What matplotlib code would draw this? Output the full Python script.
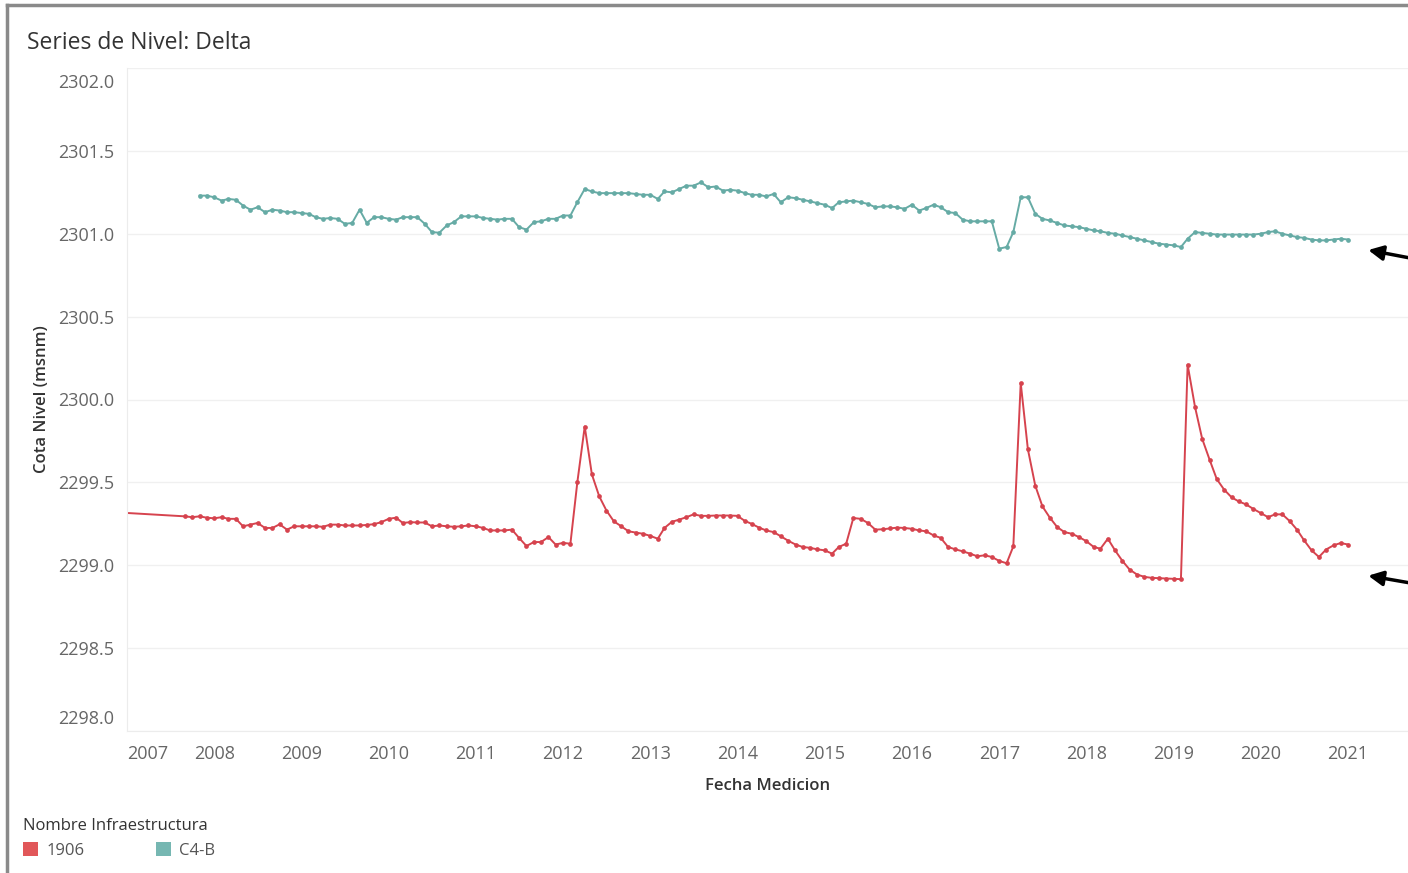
import numpy as np
import pandas as pd
import matplotlib
matplotlib.use("Agg")
import matplotlib.pyplot as plt
import matplotlib.dates as mdates
import matplotlib.transforms as mtransforms
from matplotlib.patches import Patch
from matplotlib.lines import Line2D

plt.rcParams['font.family'] = ['Open Sans', 'DejaVu Sans']

# ---- datos (mensuales) ----
c4b_start = '2007-11-01'
c4b_values = [
    2301.23, 2301.23, 2301.22, 2301.20, 2301.21, 2301.205, 2301.17, 2301.145, 2301.16, 2301.13,
    2301.145, 2301.14, 2301.13, 2301.13, 2301.125, 2301.12, 2301.10, 2301.09, 2301.095, 2301.09,
    2301.06, 2301.065, 2301.145, 2301.066, 2301.10, 2301.10, 2301.09, 2301.085, 2301.10, 2301.10,
    2301.10, 2301.06, 2301.01, 2301.006, 2301.05, 2301.07, 2301.105, 2301.105, 2301.105, 2301.095,
    2301.09, 2301.085, 2301.09, 2301.09, 2301.04, 2301.025, 2301.07, 2301.075, 2301.09, 2301.09,
    2301.11, 2301.11, 2301.19, 2301.27, 2301.255, 2301.245, 2301.245, 2301.245, 2301.245, 2301.245,
    2301.24, 2301.235, 2301.235, 2301.21, 2301.255, 2301.25, 2301.27, 2301.29, 2301.29, 2301.31,
    2301.28, 2301.285, 2301.26, 2301.265, 2301.26, 2301.245, 2301.235, 2301.235, 2301.225, 2301.24,
    2301.19, 2301.22, 2301.215, 2301.205, 2301.195, 2301.185, 2301.175, 2301.155, 2301.19, 2301.195,
    2301.20, 2301.19, 2301.18, 2301.16, 2301.165, 2301.165, 2301.16, 2301.15, 2301.175, 2301.14,
    2301.155, 2301.175, 2301.16, 2301.13, 2301.125, 2301.085, 2301.075, 2301.075, 2301.075, 2301.075,
    2300.91, 2300.92, 2301.01, 2301.22, 2301.22, 2301.12, 2301.09, 2301.08, 2301.065, 2301.05,
    2301.045, 2301.04, 2301.03, 2301.02, 2301.015, 2301.005, 2301.00, 2300.99, 2300.98, 2300.97,
    2300.96, 2300.95, 2300.94, 2300.935, 2300.93, 2300.92, 2300.97, 2301.01, 2301.005, 2301.00,
    2300.995, 2300.995, 2300.995, 2300.995, 2300.995, 2300.995, 2301.00, 2301.01, 2301.015, 2301.00,
    2300.99, 2300.98, 2300.975, 2300.965, 2300.96, 2300.96, 2300.965, 2300.97, 2300.965,
]

r1906_early_date = '2006-12-01'
r1906_early_value = 2299.318
r1906_start = '2007-09-01'
r1906_values = [
    2299.295, 2299.29, 2299.295, 2299.287, 2299.283, 2299.29, 2299.28, 2299.28, 2299.235, 2299.245,
    2299.255, 2299.225, 2299.225, 2299.247, 2299.215, 2299.235, 2299.235, 2299.235, 2299.235, 2299.232,
    2299.245, 2299.245, 2299.24, 2299.24, 2299.24, 2299.243, 2299.248, 2299.26, 2299.28, 2299.287,
    2299.255, 2299.26, 2299.258, 2299.258, 2299.235, 2299.24, 2299.235, 2299.232, 2299.235, 2299.24,
    2299.235, 2299.225, 2299.21, 2299.21, 2299.21, 2299.215, 2299.165, 2299.116, 2299.14, 2299.14,
    2299.17, 2299.125, 2299.135, 2299.13, 2299.50, 2299.837, 2299.548, 2299.415, 2299.33, 2299.265,
    2299.235, 2299.205, 2299.197, 2299.19, 2299.177, 2299.16, 2299.225, 2299.262, 2299.275, 2299.29,
    2299.307, 2299.298, 2299.298, 2299.30, 2299.30, 2299.30, 2299.298, 2299.267, 2299.25, 2299.227,
    2299.21, 2299.20, 2299.175, 2299.148, 2299.125, 2299.11, 2299.105, 2299.096, 2299.09, 2299.07,
    2299.11, 2299.13, 2299.285, 2299.28, 2299.255, 2299.215, 2299.217, 2299.222, 2299.227, 2299.225,
    2299.22, 2299.21, 2299.205, 2299.18, 2299.165, 2299.11, 2299.096, 2299.084, 2299.07, 2299.054,
    2299.06, 2299.05, 2299.026, 2299.012, 2299.114, 2300.10, 2299.70, 2299.48, 2299.355, 2299.287,
    2299.23, 2299.20, 2299.19, 2299.17, 2299.145, 2299.11, 2299.10, 2299.16, 2299.09, 2299.026,
    2298.974, 2298.944, 2298.93, 2298.924, 2298.922, 2298.92, 2298.918, 2298.916, 2300.21, 2299.955,
    2299.763, 2299.637, 2299.52, 2299.456, 2299.41, 2299.385, 2299.367, 2299.34, 2299.315, 2299.29,
    2299.307, 2299.307, 2299.267, 2299.215, 2299.15, 2299.09, 2299.05, 2299.095, 2299.12, 2299.134,
    2299.125,
]

series_names = ['1906', 'C4-B']
line_colors = ['#d6434e', '#66aba5']
legend_colors = ['#e15759', '#76b7b2']

c4b_dates = pd.date_range(c4b_start, periods=len(c4b_values), freq='MS')
r_dates = pd.DatetimeIndex([pd.Timestamp(r1906_early_date)]).append(
    pd.date_range(r1906_start, periods=len(r1906_values), freq='MS'))
r_vals = [r1906_early_value] + r1906_values

# ---- figura ----
W, H = 1408, 873
fig = plt.figure(figsize=(W / 100, H / 100), dpi=100)
ax = fig.add_axes([127 / W, 1 - 731 / H, 1 - 127 / W, (731 - 68) / H])

ax.plot(r_dates, r_vals, color=line_colors[0], lw=1.4, marker='o', ms=3.4, mew=0)
ax.plot(c4b_dates, c4b_values, color=line_colors[1], lw=1.4, marker='o', ms=3.4, mew=0)

ax.set_ylim(2298.0, 2302.0)
ax.set_xlim(pd.Timestamp('2007-01-01'), pd.Timestamp('2021-09-09'))
ax.set_yticks(np.arange(2298.0, 2302.01, 0.5))
ax.yaxis.set_major_formatter(plt.FuncFormatter(lambda v, p: f'{v:.1f}'))
ax.xaxis.set_major_locator(mdates.YearLocator())
ax.xaxis.set_major_formatter(mdates.DateFormatter('%Y'))
ax.tick_params(axis='both', length=0, labelsize=13, labelcolor='#666666')
ax.tick_params(axis='y', pad=9)
ax.tick_params(axis='x', pad=10)
ax.grid(axis='y', color='#f0f0f0', lw=1)
for s in ['top', 'right']:
    ax.spines[s].set_visible(False)
for s in ['left', 'bottom']:
    ax.spines[s].set_color('#ececec')

fig.canvas.draw()
ylabels = ax.get_yticklabels()
# etiquetas de los extremos desplazadas hacia dentro (estilo Tableau)
ylabels[0].set_transform(ylabels[0].get_transform() +
                         mtransforms.ScaledTranslation(0, 14 / 100, fig.dpi_scale_trans))
ylabels[-1].set_transform(ylabels[-1].get_transform() +
                          mtransforms.ScaledTranslation(0, -13 / 100, fig.dpi_scale_trans))
ax.get_xticklabels()[0].set_ha('left')

ax.set_xlabel('Fecha Medicion', fontsize=12, color='#333333', fontweight='semibold', labelpad=11)
ax.set_ylabel('Cota Nivel (msnm)', fontsize=12, color='#333333', fontweight='semibold', labelpad=6)

fig.text(27 / W, 1 - 43 / H, 'Series de Nivel: Delta', fontsize=16.5, color='#333333',
         va='center', ha='left')

# leyenda
handles = [Patch(facecolor=c, edgecolor='none') for c in legend_colors]
leg = fig.legend(handles, series_names, title='Nombre Infraestructura', ncol=2,
                 loc='upper left', bbox_to_anchor=(23 / W, 1 - 818 / H), frameon=False,
                 fontsize=12, title_fontsize=12, handlelength=0.9, handleheight=0.9,
                 handletextpad=0.5, columnspacing=4.3, borderpad=0, borderaxespad=0,
                 alignment='left')
for t in leg.get_texts():
    t.set_color('#555555')
leg.get_title().set_color('#333333')

# flechas
ax.annotate('', xy=(pd.Timestamp('2021-03-15'), 2300.905), xytext=(pd.Timestamp('2021-10-01'), 2300.85),
            arrowprops=dict(arrowstyle='-|>', color='black', lw=2.5, mutation_scale=22),
            annotation_clip=False)
ax.annotate('', xy=(pd.Timestamp('2021-03-15'), 2298.94), xytext=(pd.Timestamp('2021-10-01'), 2298.89),
            arrowprops=dict(arrowstyle='-|>', color='black', lw=2.5, mutation_scale=22),
            annotation_clip=False)

# marco
fig.add_artist(Line2D([7.5 / W, 7.5 / W], [0, 1 - 4.5 / H], color='#8a8a8a', lw=2.5))
fig.add_artist(Line2D([7.5 / W, 1], [1 - 4.5 / H, 1 - 4.5 / H], color='#8a8a8a', lw=2.5))

plt.savefig('out.png', dpi=100)
